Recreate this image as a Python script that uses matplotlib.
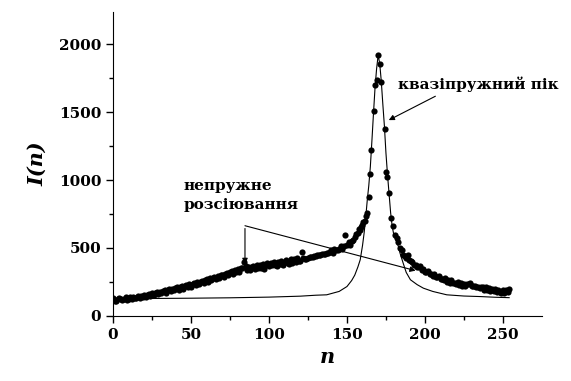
import matplotlib
matplotlib.use('Agg')
import matplotlib.pyplot as plt
import numpy as np

plt.rcParams['font.family'] = ['DejaVu Serif']
plt.rcParams['font.weight'] = 'bold'

# measured intensity, background part (n = 0..155)
bg_vals = [128, 112, 108, 122, 135, 125, 114, 127, 136, 120,
           126, 138, 124, 140, 130, 135, 146, 133, 149, 140,
           152, 140, 157, 163, 148, 166, 152, 170, 176, 160,
           178, 165, 184, 188, 172, 192, 197, 180, 201, 188,
           204, 211, 192, 214, 219, 200, 223, 228, 210, 232,
           216, 237, 242, 224, 248, 234, 253, 258, 240, 264,
           268, 250, 276, 262, 282, 287, 268, 294, 280, 299,
           304, 286, 311, 317, 298, 323, 328, 310, 336, 320,
           342, 324, 349, 355, 400, 364, 340, 358, 335, 361,
           368, 343, 372, 352, 376, 356, 380, 347, 374, 386,
           367, 391, 371, 396, 376, 364, 400, 381, 404, 374,
           398, 409, 390, 383, 416, 393, 422, 400, 427, 407,
           403, 470, 424, 420, 421, 426, 430, 432, 435, 438,
           442, 445, 447, 450, 453, 455, 458, 460, 464, 467,
           484, 463, 491, 487, 486, 493, 511, 489, 518, 598,
           520, 542, 519, 554, 560, 580]
bg_n = list(range(len(bg_vals)))

# peak part
peak_n = [156, 157, 157.5, 158.5, 159.2, 159.6, 160, 161.3, 162.4, 163, 163.9,
          165, 165.6, 167.1, 168.2, 169, 170, 171, 172, 174.2, 175, 175.9,
          177, 178, 179.3, 181]
peak_vals = [600, 610, 640, 635, 655, 671, 694, 696, 733, 758, 873,
             1046, 1220, 1508, 1703, 1737, 1919, 1852, 1722, 1373, 1058, 1024,
             905, 721, 659, 598]

# tail part (n = 182..254)
tail_vals = [573, 545, 500, 482, 450, 438, 428, 446, 413, 405,
             398, 378, 375, 362, 360, 368, 340, 343, 326, 324,
             330, 308, 309, 294, 307, 286, 288, 296, 271, 274,
             262, 276, 249, 262, 244, 266, 241, 244, 232, 252,
             225, 242, 222, 236, 218, 234, 232, 245, 221, 222,
             222, 216, 216, 208, 210, 212, 194, 209, 191, 205,
             186, 201, 182, 196, 175, 192, 177, 172, 188, 170,
             192, 175, 198]
tail_n = list(range(182, 182 + len(tail_vals)))

# quasi-elastic peak curve
fit_n = [0, 25, 50, 75, 100, 120, 130, 137, 145, 150, 153, 155, 157, 158.5,
         160, 161, 162, 163, 164, 165, 166, 167, 168, 169, 170, 171, 172, 173,
         174, 175, 176, 177, 178, 179, 180, 181, 183, 184, 186, 188, 190.7,
         195, 199, 205, 214, 225, 235.7, 245, 254]
fit_vals = [126, 128, 130, 133, 138, 145, 152, 155, 180, 216, 260, 300, 360, 413,
            520, 610, 720, 850, 960, 1100, 1290, 1490, 1680, 1820, 1920, 1860, 1730, 1560,
            1400, 1200, 1040, 900, 760, 660, 600, 570, 511, 463, 390, 320, 266,
            230, 204, 180, 155, 146, 142, 137, 134]

n_all = bg_n + peak_n + tail_n
i_all = bg_vals + peak_vals + tail_vals

fig = plt.figure(figsize=(5.71, 3.81), dpi=100)
ax = fig.add_axes([0.198, 0.171, 0.751, 0.798])

ax.plot(fit_n, fit_vals, color='black', lw=0.8, zorder=2)
ax.scatter(n_all, i_all, s=20, color='black', zorder=3, linewidths=0)

ax.set_xlim(0, 275)
ax.set_ylim(0, 2240)
ax.set_xticks([0, 50, 100, 150, 200, 250])
ax.set_xticks(np.arange(25, 275, 50), minor=True)
ax.set_yticks([0, 500, 1000, 1500, 2000])
ax.set_yticks([250, 750, 1250, 1750], minor=True)
ax.tick_params(direction='out', length=5, width=1, labelsize=11)
ax.tick_params(which='minor', direction='out', length=3, width=1)
for lab in ax.get_xticklabels() + ax.get_yticklabels():
    lab.set_fontweight('bold')
ax.spines['top'].set_visible(False)
ax.spines['right'].set_visible(False)

ax.set_xlabel('n', fontsize=15, fontstyle='italic', fontweight='bold', labelpad=4)
ax.set_ylabel('I(n)', fontsize=15, fontstyle='italic', fontweight='bold', labelpad=8)

ax.text(45, 1010, 'непружне\nрозсіювання', fontsize=11, fontweight='bold',
        ha='left', va='top', linespacing=1.45)
ax.annotate('', xy=(84.6, 362), xytext=(84.6, 664),
            arrowprops=dict(arrowstyle='-|>', lw=0.8, color='black', mutation_scale=8))
ax.annotate('', xy=(194, 333), xytext=(84.6, 664),
            arrowprops=dict(arrowstyle='-|>', lw=0.8, color='black', mutation_scale=8,
                            shrinkA=0, shrinkB=0))

ax.text(182.5, 1705, 'квазіпружний пік', fontsize=11, fontweight='bold',
        ha='left', va='center')
ax.annotate('', xy=(176.8, 1442), xytext=(206.7, 1618),
            arrowprops=dict(arrowstyle='-|>', lw=0.8, color='black', mutation_scale=8,
                            shrinkA=0, shrinkB=0))

fig.savefig('out.png', dpi=100)
